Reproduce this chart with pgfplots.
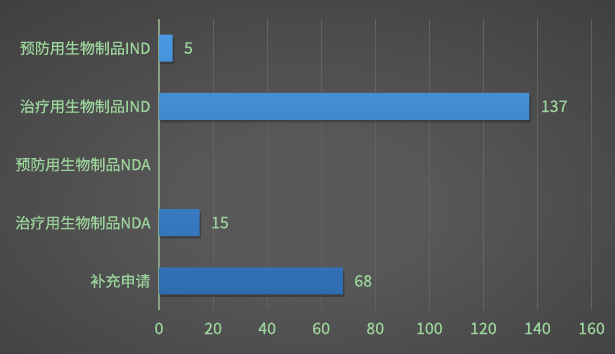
\documentclass[border=0pt]{standalone}
\usepackage{fontspec}
\setmainfont[FakeBold=0.5]{Noto Sans CJK SC}
\usepackage{pgfplots}
\pgfplotsset{compat=1.18}
\definecolor{lbl}{RGB}{156,212,156}
\definecolor{bartop}{RGB}{74,152,225}
\definecolor{barbot}{RGB}{46,108,176}
\definecolor{bgin}{RGB}{88,88,88}
\definecolor{bgout}{RGB}{30,30,30}
\definecolor{gridcol}{RGB}{98,98,98}
\definecolor{axcol}{RGB}{140,160,130}
\pgfdeclareradialshading{bgshade}{\pgfpoint{0bp}{-5bp}}{color(0bp)=(bgin); color(10bp)=(bgin); color(75bp)=(bgout)}
\newcommand{\lblfont}{\fontsize{15}{18}\selectfont}
\newcommand{\tckfont}{\fontsize{16}{18}\selectfont}
\begin{document}
\begin{tikzpicture}
\shade[shading=bgshade] (0,0) rectangle (615pt,353pt);
\begin{axis}[
  at={(159pt,43pt)}, anchor=south west,
  scale only axis, width=432.5pt, height=291pt,
  xmin=0, xmax=160, ymin=-0.5, ymax=4.5,
  xtick={0,20,...,160},
  ytick={0,1,2,3,4},
  yticklabels={补充申请, 治疗用生物制品NDA, 预防用生物制品NDA, 治疗用生物制品IND, 预防用生物制品IND},
  axis line style={draw=none},
  major tick length=0pt,
  xmajorgrids, grid style={draw=gridcol, line width=0.6pt},
  extra x ticks={0}, extra x tick labels={},
  extra x tick style={grid style={draw=axcol, line width=1.2pt}},
  tick label style={text=lbl},
  xticklabel style={font=\tckfont, yshift=-9pt},
  yticklabel style={font=\lblfont, xshift=-5pt},
  /pgf/number format/assume math mode=true,
  xbar, bar width=27pt,
]
\addplot[draw=none, fill=black, fill opacity=0.25, bar shift=0pt, xshift=1.5pt, yshift=-2.5pt]
  coordinates {(68,0) (15,1) (137,3) (5,4)};
\addplot[draw=none, top color=bartop, bottom color=barbot, bar shift=0pt,
  nodes near coords,
  every node near coord/.append style={text=lbl, font=\tckfont, anchor=west, xshift=8pt}]
  coordinates {(68,0) (15,1) (137,3) (5,4)};
\end{axis}
\pgfresetboundingbox
\useasboundingbox (0,0) rectangle (615pt,353pt);
\end{tikzpicture}
\end{document}
